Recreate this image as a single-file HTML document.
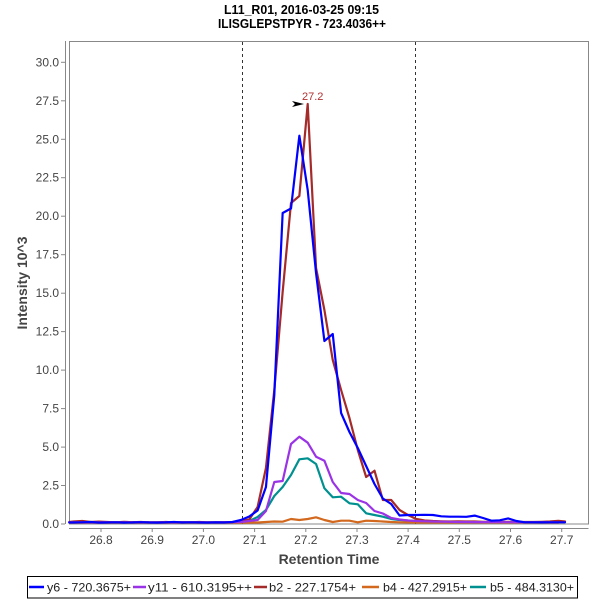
<!DOCTYPE html>
<html>
<head>
<meta charset="utf-8">
<style>
  html, body { margin: 0; padding: 0; background: #ffffff; }
  svg { display: block; }
  text { font-family: "Liberation Sans", "DejaVu Sans", sans-serif; }
</style>
</head>
<body>
<svg width="600" height="600" viewBox="0 0 600 600" xmlns="http://www.w3.org/2000/svg">
  <rect x="0" y="0" width="600" height="600" fill="#ffffff"/>

  <!-- Title -->
  <text x="224" y="14" font-size="13" font-weight="bold" fill="#000" textLength="155" lengthAdjust="spacingAndGlyphs">L11_R01, 2016-03-25 09:15</text>
  <text x="218" y="28" font-size="13" font-weight="bold" fill="#000" textLength="168" lengthAdjust="spacingAndGlyphs">ILISGLEPSTPYR - 723.4036++</text>

  <!-- Plot border -->
  <rect x="69.5" y="41.5" width="519" height="482.5" fill="none" stroke="#888888" stroke-width="1"/>

  <!-- Y axis line -->
  <line x1="65.5" y1="41" x2="65.5" y2="524" stroke="#888888" stroke-width="1"/>
  <!-- X axis line -->
  <line x1="69" y1="528.5" x2="588.5" y2="528.5" stroke="#888888" stroke-width="1"/>

  <!-- Y ticks -->
  <g stroke="#888888" stroke-width="1">
    <line x1="61" y1="524" x2="65" y2="524"/>
    <line x1="61" y1="485.5" x2="65" y2="485.5"/>
    <line x1="61" y1="447.1" x2="65" y2="447.1"/>
    <line x1="61" y1="408.6" x2="65" y2="408.6"/>
    <line x1="61" y1="370.1" x2="65" y2="370.1"/>
    <line x1="61" y1="331.6" x2="65" y2="331.6"/>
    <line x1="61" y1="293.2" x2="65" y2="293.2"/>
    <line x1="61" y1="254.7" x2="65" y2="254.7"/>
    <line x1="61" y1="216.2" x2="65" y2="216.2"/>
    <line x1="61" y1="177.7" x2="65" y2="177.7"/>
    <line x1="61" y1="139.3" x2="65" y2="139.3"/>
    <line x1="61" y1="100.8" x2="65" y2="100.8"/>
    <line x1="61" y1="62.3" x2="65" y2="62.3"/>
  </g>
  <g font-size="12" fill="#444444" text-anchor="end">
    <text x="59" y="528">0.0</text>
    <text x="59" y="489.5">2.5</text>
    <text x="59" y="451.1">5.0</text>
    <text x="59" y="412.6">7.5</text>
    <text x="59" y="374.1">10.0</text>
    <text x="59" y="335.6">12.5</text>
    <text x="59" y="297.2">15.0</text>
    <text x="59" y="258.7">17.5</text>
    <text x="59" y="220.2">20.0</text>
    <text x="59" y="181.7">22.5</text>
    <text x="59" y="143.3">25.0</text>
    <text x="59" y="104.8">27.5</text>
    <text x="59" y="66.3">30.0</text>
  </g>

  <!-- X ticks -->
  <g stroke="#888888" stroke-width="1">
    <line x1="101" y1="529" x2="101" y2="532"/>
    <line x1="152.2" y1="529" x2="152.2" y2="532"/>
    <line x1="203.4" y1="529" x2="203.4" y2="532"/>
    <line x1="254.6" y1="529" x2="254.6" y2="532"/>
    <line x1="305.8" y1="529" x2="305.8" y2="532"/>
    <line x1="357" y1="529" x2="357" y2="532"/>
    <line x1="408.1" y1="529" x2="408.1" y2="532"/>
    <line x1="459.3" y1="529" x2="459.3" y2="532"/>
    <line x1="510.5" y1="529" x2="510.5" y2="532"/>
    <line x1="561.7" y1="529" x2="561.7" y2="532"/>
  </g>
  <g font-size="12" fill="#444444" text-anchor="middle">
    <text x="101" y="544">26.8</text>
    <text x="152.2" y="544">26.9</text>
    <text x="203.4" y="544">27.0</text>
    <text x="254.6" y="544">27.1</text>
    <text x="305.8" y="544">27.2</text>
    <text x="357" y="544">27.3</text>
    <text x="408.1" y="544">27.4</text>
    <text x="459.3" y="544">27.5</text>
    <text x="510.5" y="544">27.6</text>
    <text x="561.7" y="544">27.7</text>
  </g>

  <!-- Axis titles -->
  <text x="329" y="564" font-size="14" font-weight="bold" fill="#444444" text-anchor="middle">Retention Time</text>
  <text transform="translate(27,283) rotate(-90)" font-size="14" font-weight="bold" fill="#444444" text-anchor="middle">Intensity 10^3</text>

  <!-- Dashed boundary lines -->
  <line x1="242.5" y1="42" x2="242.5" y2="524" stroke="#333333" stroke-width="1" stroke-dasharray="3,3"/>
  <line x1="415.5" y1="42" x2="415.5" y2="524" stroke="#333333" stroke-width="1" stroke-dasharray="3,3"/>

  <g fill="none" stroke-width="2.2" stroke-linejoin="round" stroke-linecap="round">
    <!-- b5 teal -->
    <polyline stroke="#009090" points="69.3,522.4 73.9,522.4 82.25,522.3 90.6,522.4 98.95,522.3 107.3,522.4 115.65,522.3 124,522.4 132.35,522.3 140.7,522.4 149.05,522.3 157.4,522.4 165.75,522.3 174.1,522.4 182.45,522.3 190.8,522.4 199.15,522.3 207.5,522.4 215.85,522.3 224.2,522.4 232.55,522.2 240.9,522 249.25,521 257.6,517 265.95,510 274.3,496 282.65,487 291,475 299.35,459.3 307.7,458.3 316.05,464 324.4,488.3 332.75,497.3 341.1,496.7 349.45,503.3 357.8,504.3 366.15,513.3 374.5,515 382.85,516.7 391.2,519 399.55,520 407.9,520.5 416.25,521 424.6,521.3 432.95,521.6 441.3,521.8 449.65,522 458,522 466.35,522.1 474.7,522.2 483.05,522.2 491.4,522.3 499.75,522.3 508.1,522.3 516.45,522.3 524.8,522.3 533.15,522.3 541.5,522.3 549.85,522.3 558.2,522.3"/>
    <!-- b4 orange -->
    <polyline stroke="#d2691e" points="69.3,522.6 73.9,522.5 82.25,522.6 90.6,522.5 98.95,522.6 107.3,522.5 115.65,522.6 124,522.5 132.35,522.6 140.7,522.5 149.05,522.6 157.4,522.5 165.75,522.6 174.1,522.5 182.45,522.6 190.8,522.5 199.15,522.6 207.5,522.5 215.85,522.6 224.2,522.5 232.55,522.6 240.9,522.5 249.25,522.6 257.6,522.5 265.95,522 274.3,521.5 282.65,521.7 291,519 299.35,520 307.7,519 316.05,517.3 324.4,520 332.75,522 341.1,520.7 349.45,520.7 357.8,522.3 366.15,520.7 374.5,521 382.85,521.5 391.2,522 399.55,522.3 407.9,522.4 416.25,522.5 424.6,522.4 432.95,522.5 441.3,522.5 449.65,522.5 458,522.5 466.35,522.5 474.7,522.5 483.05,522.5 491.4,522.5 499.75,522.5 508.1,522.5 516.45,522.5 524.8,522.5 533.15,522.5 541.5,522.5 549.85,522.5 558.2,522.5"/>
    <!-- b2 brown-red -->
    <polyline stroke="#a52a2a" points="69.3,522 73.9,521.5 82.25,521 90.6,522 98.95,521.6 107.3,522 115.65,522.3 124,521.8 132.35,522.2 140.7,522 149.05,522.3 157.4,522.3 165.75,522 174.1,522.3 182.45,522.2 190.8,522.3 199.15,522 207.5,522.3 215.85,522.3 224.2,522.2 232.55,522 240.9,521 249.25,519.5 257.6,507 265.95,468 274.3,390 282.65,292 291,203 299.35,196 307.7,104 316.05,268 324.4,310 332.75,360 341.1,390 349.45,418 357.8,450 366.15,477 374.5,470.7 382.85,500 391.2,500 399.55,510 407.9,515 416.25,519 424.6,520.5 432.95,521 441.3,521.3 449.65,521.5 458,521.3 466.35,521.5 474.7,521.5 483.05,521.8 491.4,521.8 499.75,522 508.1,521.8 516.45,522 524.8,522 533.15,522 541.5,521.8 549.85,521.5 558.2,520.8 565,521.5"/>
    <!-- y11 purple -->
    <polyline stroke="#9a32e6" points="69.3,522.4 73.9,522.3 82.25,522.4 90.6,522.3 98.95,522.4 107.3,522.3 115.65,522.4 124,522.3 132.35,522.4 140.7,522.3 149.05,522.4 157.4,522.3 165.75,522.4 174.1,522.3 182.45,522.4 190.8,522.3 199.15,522.4 207.5,522.3 215.85,522.4 224.2,522.3 232.55,522.2 240.9,522 249.25,521 257.6,520 265.95,511 274.3,482 282.65,481 291,444 299.35,436.7 307.7,442.7 316.05,456.7 324.4,460.7 332.75,482 341.1,493 349.45,494 357.8,500 366.15,503 374.5,511 382.85,513.5 391.2,518 399.55,519.5 407.9,520.5 416.25,521 424.6,521.3 432.95,521.5 441.3,521.7 449.65,521.8 458,522 466.35,522 474.7,522.1 483.05,522.1 491.4,522.2 499.75,522.2 508.1,522.2 516.45,522.3 524.8,522.3 533.15,522.3 541.5,522.3 549.85,522.3 558.2,522.3"/>
    <!-- y6 blue -->
    <polyline stroke="#0000ff" points="69.3,522.5 73.9,522.5 82.25,522.3 90.6,522 98.95,522.6 107.3,522.5 115.65,522.3 124,522.6 132.35,522.5 140.7,522.2 149.05,522.5 157.4,522.6 165.75,522.4 174.1,522 182.45,522.5 190.8,522.3 199.15,522.5 207.5,522.6 215.85,522.4 224.2,522.5 232.55,522 240.9,520 249.25,516.5 257.6,510.5 265.95,487 274.3,395 282.65,213 291,208.5 299.35,135.7 307.7,190 316.05,273 324.4,341 332.75,334 341.1,413 349.45,432 357.8,448 366.15,466 374.5,484 382.85,498.5 391.2,504 399.55,515.5 407.9,515 416.25,515 424.6,514.8 432.95,515 441.3,516.3 449.65,516.7 458,516.7 466.35,516.8 474.7,515.6 483.05,518 491.4,520.7 499.75,520.3 508.1,518.4 516.45,521 524.8,522.3 533.15,522.3 541.5,522.4 549.85,522.3 558.2,522.3 565,522.3"/>
  </g>

  <!-- Peak annotation -->
  <polygon points="292,101 304,104 292,107 295,104" fill="#000000"/>
  <text x="302" y="100" font-size="11" fill="#b03030">27.2</text>

  <!-- Legend -->
  <rect x="27.5" y="576.5" width="550" height="21.5" fill="#ffffff" stroke="#000000" stroke-width="1"/>
  <g stroke-width="2.5">
    <line x1="29" y1="587" x2="44" y2="587" stroke="#0000ff"/>
    <line x1="133" y1="587" x2="146" y2="587" stroke="#9a32e6"/>
    <line x1="254" y1="587" x2="267" y2="587" stroke="#a52a2a"/>
    <line x1="362" y1="587" x2="379" y2="587" stroke="#d2691e"/>
    <line x1="470" y1="587" x2="486" y2="587" stroke="#009090"/>
  </g>
  <g font-size="12" fill="#222222">
    <text x="47" y="591.5" textLength="84" lengthAdjust="spacingAndGlyphs">y6 - 720.3675+</text>
    <text x="148" y="591.5" textLength="104" lengthAdjust="spacingAndGlyphs">y11 - 610.3195++</text>
    <text x="269" y="591.5" textLength="87" lengthAdjust="spacingAndGlyphs">b2 - 227.1754+</text>
    <text x="383" y="591.5" textLength="84" lengthAdjust="spacingAndGlyphs">b4 - 427.2915+</text>
    <text x="490" y="591.5" textLength="84" lengthAdjust="spacingAndGlyphs">b5 - 484.3130+</text>
  </g>
</svg>
</body>
</html>
